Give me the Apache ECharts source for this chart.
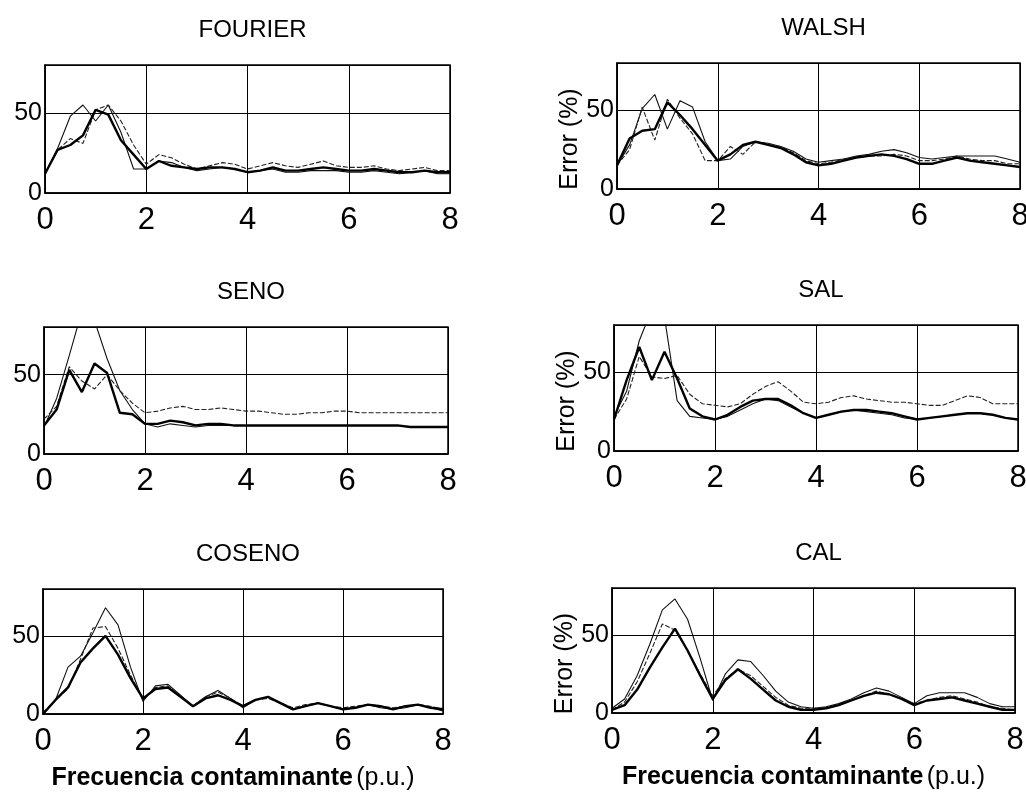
<!DOCTYPE html>
<html>
<head>
<meta charset="utf-8">
<script src="https://cdn.jsdelivr.net/npm/echarts@6/dist/echarts.min.js"></script>
<style>
  html, body { margin: 0; padding: 0; background: #fff; }
  #chart { width: 1026px; height: 797px; }
</style>
</head>
<body>
<div id="chart"></div>
<script>
// Frecuencia contaminante (p.u.)
const freq = [0, 0.25, 0.5, 0.75, 1, 1.25, 1.5, 1.75, 2, 2.25, 2.5, 2.75, 3, 3.25, 3.5, 3.75,
              4, 4.25, 4.5, 4.75, 5, 5.25, 5.5, 5.75, 6, 6.25, 6.5, 6.75, 7, 7.25, 7.5, 7.75, 8];

// Error (%) por método; tres curvas en cada panel
const fourierA = [12, 28, 48, 55, 45, 55, 38, 15, 15, 20, 19, 16, 14, 15, 16, 15, 13, 14, 15, 13, 13, 14, 14, 14, 13, 13, 14, 13, 12, 13, 14, 12, 12];
const fourierB = [12, 27, 34, 31, 52, 55, 45, 30, 18, 24, 22, 18, 15, 17, 19, 18, 15, 17, 19, 17, 16, 18, 20, 17, 16, 16, 17, 15, 14, 15, 16, 14, 14];
const fourierC = [12, 27, 30, 36, 52, 49, 33, 24, 15, 20, 17, 16, 15, 16, 16, 15, 13, 14, 16, 14, 14, 15, 16, 15, 14, 14, 15, 14, 13, 13, 14, 13, 13];

const walshA = [15, 28, 51, 60, 38, 56, 52, 30, 18, 19, 27, 30, 29, 27, 24, 19, 17, 18, 19, 21, 22, 24, 25, 23, 20, 19, 20, 21, 21, 21, 21, 19, 17];
const walshB = [15, 25, 52, 31, 57, 45, 35, 18, 18, 27, 22, 30, 28, 27, 23, 18, 16, 17, 19, 20, 21, 21, 22, 21, 18, 18, 19, 21, 19, 18, 18, 16, 16];
const walshC = [15, 32, 37, 38, 55, 47, 38, 28, 18, 22, 28, 30, 28, 26, 22, 17, 15, 16, 18, 20, 21, 22, 21, 19, 16, 16, 18, 20, 18, 17, 16, 15, 14];

const senoA = [17, 35, 62, 90, 84, 60, 40, 28, 19, 17, 19, 18, 17, 18, 18, 18, 18, 18, 18, 18, 18, 18, 18, 18, 18, 18, 18, 18, 18, 17, 17, 17, 17];
const senoB = [22, 30, 55, 46, 41, 50, 40, 32, 26, 27, 29, 30, 28, 28, 29, 28, 27, 27, 26, 25, 25, 26, 26, 27, 27, 26, 26, 26, 26, 26, 26, 26, 26];
const senoC = [18, 28, 53, 39, 57, 51, 26, 25, 19, 19, 21, 20, 18, 19, 19, 18, 18, 18, 18, 18, 18, 18, 18, 18, 18, 18, 18, 18, 18, 17, 17, 17, 17];

const salA = [22, 38, 70, 90, 85, 32, 22, 21, 20, 22, 26, 30, 33, 32, 28, 24, 21, 23, 25, 26, 25, 24, 23, 21, 20, 21, 22, 23, 24, 24, 23, 21, 20];
const salB = [20, 33, 60, 47, 46, 48, 36, 30, 29, 28, 30, 36, 41, 44, 38, 31, 30, 31, 34, 35, 33, 32, 31, 31, 30, 29, 29, 32, 35, 34, 30, 30, 30];
const salC = [20, 45, 66, 45, 63, 46, 27, 22, 20, 23, 28, 32, 33, 33, 29, 24, 21, 23, 25, 26, 26, 25, 24, 22, 20, 21, 22, 23, 24, 24, 23, 21, 20];

const cosenoA = [0, 9, 30, 37, 52, 68, 57, 30, 8, 18, 19, 12, 5, 11, 15, 10, 4, 9, 11, 7, 3, 5, 7, 5, 3, 4, 6, 4, 3, 4, 6, 4, 2];
const cosenoB = [1, 9, 16, 35, 55, 56, 42, 25, 9, 17, 18, 11, 5, 11, 14, 10, 5, 9, 10, 7, 4, 6, 7, 5, 4, 5, 6, 5, 4, 5, 6, 5, 3];
const cosenoC = [0, 9, 17, 33, 42, 50, 38, 23, 10, 16, 17, 11, 5, 10, 12, 9, 5, 9, 11, 7, 3, 5, 7, 5, 3, 4, 6, 5, 3, 5, 6, 4, 3];

const calA = [3, 9, 24, 44, 66, 73, 60, 35, 8, 25, 34, 33, 24, 14, 7, 4, 3, 4, 6, 9, 13, 16, 14, 10, 6, 11, 13, 13, 13, 10, 6, 4, 4];
const calB = [2, 7, 20, 38, 57, 53, 40, 25, 11, 22, 28, 24, 17, 10, 5, 3, 3, 3, 5, 8, 11, 14, 12, 9, 6, 8, 10, 11, 9, 7, 4, 3, 2];
const calC = [2, 5, 15, 29, 42, 54, 40, 24, 9, 21, 28, 22, 15, 8, 4, 2, 2, 3, 5, 8, 11, 13, 12, 9, 5, 8, 9, 10, 8, 6, 4, 2, 2];

const yTicks = [0, 50];
const xLabel = 'Frecuencia contaminante';
const xUnit = '(p.u.)';
const yLabel = 'Error (%)';

const FONT = "'Liberation Sans', Arial, sans-serif";

// Panel layout: title, curves, plot rectangle, which axis titles to show
const panels = [
  { title: 'FOURIER', curves: [fourierA, fourierB, fourierC], box: [45, 65, 405, 128], yTitle: false, xTitle: false },
  { title: 'WALSH',   curves: [walshA, walshB, walshC],       box: [617, 63, 403, 126], yTitle: true,  xTitle: false },
  { title: 'SENO',    curves: [senoA, senoB, senoC],          box: [44, 327, 404, 127], yTitle: false, xTitle: false },
  { title: 'SAL',     curves: [salA, salB, salC],             box: [614, 325, 404, 126], yTitle: true,  xTitle: false },
  { title: 'COSENO',  curves: [cosenoA, cosenoB, cosenoC],    box: [43, 589, 400, 125], yTitle: false, xTitle: true },
  { title: 'CAL',     curves: [calA, calB, calC],             box: [612, 588, 403, 125], yTitle: true,  xTitle: true }
];

const curveStyles = [
  { width: 1.1, type: 'solid', color: '#111' },
  { width: 1.1, type: [5, 2], color: '#222' },
  { width: 2.4, type: 'solid', color: '#000' }
];

const option = {
  backgroundColor: '#fff',
  animation: false,
  title: [], grid: [], xAxis: [], yAxis: [], series: []
};

panels.forEach((p, i) => {
  const [left, top, width, height] = p.box;
  option.title.push({
    text: p.title,
    left: left + width / 2,
    top: top - 52,
    textAlign: 'center',
    textStyle: { fontFamily: FONT, fontSize: 24, fontWeight: 'normal', color: '#000' }
  });
  option.grid.push({
    left, top, width, height,
    show: true, borderColor: '#000', borderWidth: 1.5, backgroundColor: '#fff',
    outerBoundsMode: 'none', containLabel: false
  });
  const xa = {
    gridIndex: i, type: 'value', min: 0, max: 8, interval: 2,
    axisLine: { show: true, lineStyle: { color: '#000', width: 1.5 } },
    axisTick: { show: false },
    axisLabel: { fontFamily: FONT, fontSize: 31, color: '#000', margin: 12 },
    splitLine: { show: true, lineStyle: { color: '#000', width: 1 } }
  };
  if (p.xTitle) {
    Object.assign(xa, {
      name: '{b|' + xLabel + '} {n|' + xUnit + '}',
      nameLocation: 'middle',
      nameGap: 52,
      nameTextStyle: {
        padding: [0, 20, 0, 0],
        rich: {
          b: { fontFamily: FONT, fontSize: 25, fontWeight: 'bold', color: '#000' },
          n: { fontFamily: FONT, fontSize: 25, fontWeight: 'normal', color: '#000' }
        }
      }
    });
  }
  option.xAxis.push(xa);
  const ya = {
    gridIndex: i, type: 'value', min: 0, max: 80, interval: 50,
    axisLine: { show: true, lineStyle: { color: '#000', width: 1.5 } },
    axisTick: { show: false },
    axisLabel: {
      fontFamily: FONT, fontSize: 25, color: '#000', margin: 3,
      formatter: v => (yTicks.includes(v) ? String(v) : '')
    },
    splitLine: { show: true, lineStyle: { color: '#000', width: 1 } }
  };
  if (p.yTitle) {
    Object.assign(ya, {
      name: yLabel,
      nameLocation: 'middle',
      nameGap: 34,
      nameTextStyle: { fontFamily: FONT, fontSize: 25, color: '#000', padding: [0, 26, 0, 0] }
    });
  }
  option.yAxis.push(ya);
  p.curves.forEach((vals, k) => {
    option.series.push({
      type: 'line',
      xAxisIndex: i, yAxisIndex: i,
      data: freq.map((x, j) => [x, vals[j]]),
      showSymbol: false, symbol: 'none',
      clip: true,
      lineStyle: curveStyles[k],
      z: 3 + k
    });
  });
});

const chart = echarts.init(document.getElementById('chart'), null, { renderer: 'canvas' });
chart.setOption(option);
</script>
</body>
</html>
